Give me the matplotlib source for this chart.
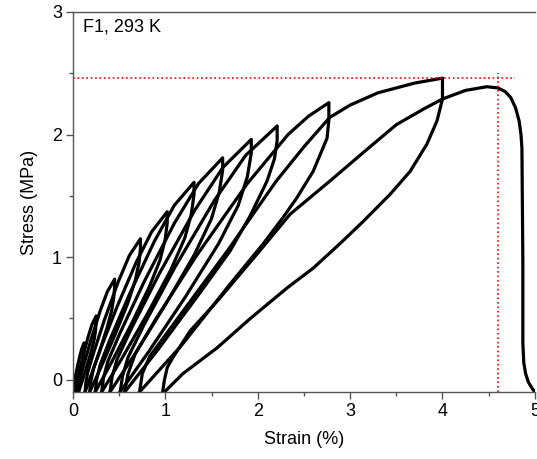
import matplotlib
matplotlib.use("Agg")
import matplotlib.pyplot as plt
from matplotlib.ticker import MultipleLocator

plt.rcParams["font.family"] = ["Liberation Sans", "DejaVu Sans"]

# Cyclic loading (load -> hold drop -> unload), strain in %, stress in MPa
cyc1_strain = [0, 0.002, 0.006, 0.018, 0.042, 0.072, 0.096, 0.12,
               0.12, 0.117, 0.111, 0.098, 0.075, 0.050, 0.03]
cyc1_stress = [-0.1, -0.076, -0.048, 0.0, 0.088, 0.188, 0.256, 0.30,
               0.25, 0.215, 0.173, 0.117, 0.04, -0.04, -0.1]

cyc2_strain = [0.03, 0.033, 0.041, 0.063, 0.107, 0.162, 0.206, 0.25,
               0.25, 0.244, 0.231, 0.203, 0.155, 0.102, 0.06]
cyc2_stress = [-0.1, -0.063, -0.019, 0.055, 0.191, 0.346, 0.452, 0.52,
               0.46, 0.404, 0.337, 0.247, 0.124, -0.005, -0.1]

cyc3_strain = [0.06, 0.066, 0.080, 0.119, 0.197, 0.294, 0.372, 0.45,
               0.45, 0.440, 0.418, 0.37, 0.29, 0.200, 0.13]
cyc3_stress = [-0.1, -0.045, 0.020, 0.130, 0.332, 0.562, 0.719, 0.82,
               0.75, 0.665, 0.563, 0.427, 0.24, 0.045, -0.1]

cyc4_strain = [0.13, 0.139, 0.16, 0.22, 0.34, 0.49, 0.61, 0.73,
               0.73, 0.714, 0.675, 0.593, 0.455, 0.301, 0.18]
cyc4_stress = [-0.1, -0.025, 0.063, 0.213, 0.488, 0.80, 1.013, 1.15,
               1.07, 0.953, 0.813, 0.625, 0.368, 0.099, -0.1]

cyc5_strain = [0.18, 0.193, 0.222, 0.306, 0.474, 0.684, 0.852, 1.02,
               1.02, 0.997, 0.942, 0.825, 0.63, 0.412, 0.24]
cyc5_stress = [-0.1, -0.012, 0.091, 0.268, 0.591, 0.958, 1.208, 1.37,
               1.28, 1.142, 0.976, 0.756, 0.452, 0.135, -0.1]

cyc6_strain = [0.24, 0.256, 0.294, 0.40, 0.615, 0.882, 1.096, 1.31,
               1.31, 1.28, 1.21, 1.06, 0.81, 0.53, 0.31]
cyc6_stress = [-0.1, 0.003, 0.122, 0.328, 0.704, 1.131, 1.422, 1.61,
               1.51, 1.349, 1.156, 0.898, 0.544, 0.174, -0.1]

cyc7_strain = [0.31, 0.33, 0.376, 0.507, 0.769, 1.096, 1.358, 1.62,
               1.62, 1.583, 1.498, 1.315, 1.01, 0.668, 0.40]
cyc7_stress = [-0.1, 0.015, 0.148, 0.378, 0.798, 1.275, 1.60, 1.81,
               1.71, 1.529, 1.312, 1.022, 0.624, 0.208, -0.1]

cyc8_strain = [0.40, 0.423, 0.477, 0.63, 0.936, 1.318, 1.624, 1.93,
               1.93, 1.887, 1.788, 1.575, 1.22, 0.822, 0.51]
cyc8_stress = [-0.1, 0.024, 0.168, 0.415, 0.868, 1.383, 1.733, 1.96,
               1.85, 1.655, 1.421, 1.109, 0.68, 0.232, -0.1]

cyc9_strain = [0.51, 0.536, 0.595, 0.765, 1.105, 1.53, 1.87, 2.21,
               2.21, 2.18, 2.10, 1.92, 1.70, 1.385, 0.923, 0.56]
cyc9_stress = [-0.1, 0.030, 0.182, 0.443, 0.92, 1.462, 1.831, 2.07,
               1.95, 1.80, 1.62, 1.34, 1.05, 0.72, 0.249, -0.1]

cyc10_strain = [0.56, 0.593, 0.671, 0.892, 1.334, 1.886, 2.328, 2.55, 2.77,
                2.77, 2.75, 2.60, 2.42, 2.27, 2.06, 1.70, 1.171, 0.72]
cyc10_stress = [-0.1, 0.042, 0.207, 0.49, 1.009, 1.599, 2.0, 2.15, 2.26,
                2.12, 1.97, 1.70, 1.48, 1.32, 1.11, 0.78, 0.277, -0.1]

cyc11_strain = [0.72, 0.75, 0.83, 1.25, 1.67, 2.2, 2.5, 2.78, 3.0, 3.3, 3.7, 4.0,
                4.0, 3.94, 3.83, 3.65, 3.43, 3.14, 2.89, 2.60, 2.32, 1.92,
                1.56, 1.19, 0.99]
cyc11_stress = [-0.1, 0.05, 0.19, 0.62, 1.05, 1.62, 1.9, 2.14, 2.24, 2.34, 2.42, 2.46,
                2.29, 2.11, 1.92, 1.70, 1.51, 1.29, 1.11, 0.91, 0.75, 0.50,
                0.26, 0.05, -0.1]

# final reload to failure
fail_strain = [0.97, 0.99, 1.02, 1.08, 1.27, 1.56, 2.02, 2.35, 2.78, 3.2, 3.5, 3.8, 4.0,
               4.25, 4.48, 4.6, 4.68, 4.74, 4.79, 4.83, 4.85, 4.86, 4.87, 4.87,
               4.88, 4.90, 4.93, 4.97, 5.0]
fail_stress = [-0.1, 0.0, 0.1, 0.18, 0.40, 0.64, 1.05, 1.35, 1.62, 1.89, 2.08, 2.21, 2.29,
               2.36, 2.39, 2.38, 2.35, 2.30, 2.22, 2.11, 2.0, 1.89, 0.97, 0.3,
               0.14, 0.05, -0.02, -0.07, -0.1]

curves = [
    (cyc1_strain, cyc1_stress), (cyc2_strain, cyc2_stress),
    (cyc3_strain, cyc3_stress), (cyc4_strain, cyc4_stress),
    (cyc5_strain, cyc5_stress), (cyc6_strain, cyc6_stress),
    (cyc7_strain, cyc7_stress), (cyc8_strain, cyc8_stress),
    (cyc9_strain, cyc9_stress), (cyc10_strain, cyc10_stress),
    (cyc11_strain, cyc11_stress), (fail_strain, fail_stress),
]

max_stress = 2.46
break_strain = 4.6
label = "F1, 293 K"

fig = plt.figure(figsize=(5.37, 4.59), dpi=100)
ax = fig.add_axes([0.136, 0.146, 0.860, 0.828])

for x, y in curves:
    ax.plot(x, y, color="black", lw=2.3, solid_joinstyle="round")

# reference lines for strength / strain at max
ax.plot([0, 4.79], [max_stress, max_stress], color="red", ls=":", lw=1.2)
ax.plot([break_strain, break_strain], [-0.1, 2.5], color="red", ls=":", lw=1.2)

ax.set_xlim(0, 5)
ax.set_ylim(-0.1, 3)
ax.xaxis.set_major_locator(MultipleLocator(1))
ax.xaxis.set_minor_locator(MultipleLocator(0.5))
ax.yaxis.set_major_locator(MultipleLocator(1))
ax.yaxis.set_minor_locator(MultipleLocator(0.5))

spine_c = "#555555"
for side in ("left", "bottom", "top"):
    ax.spines[side].set_color(spine_c)
    ax.spines[side].set_linewidth(1.0)
ax.spines["right"].set_visible(False)
ax.tick_params(which="major", direction="out", length=5, width=1,
               color=spine_c, labelsize=13, pad=3)
ax.tick_params(which="minor", direction="out", length=3, width=1, color=spine_c)

ax.set_xlabel("Strain (%)", fontsize=13, labelpad=8)
ax.set_ylabel("Stress (MPa)", fontsize=13, labelpad=10)
ax.text(0.022, 0.96, label, transform=ax.transAxes, ha="left", va="center",
        fontsize=13)

fig.savefig("out.png", dpi=100)
